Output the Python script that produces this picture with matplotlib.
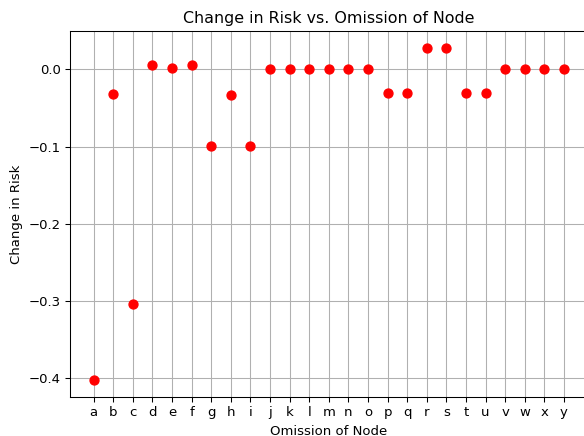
import numpy as np
import matplotlib
matplotlib.use('Agg')
import matplotlib.pyplot as plt

nodes = list('abcdefghijklmnopqrstuvwxy')
risk_change = [-0.4026, -0.0316, -0.3043, 0.0052, 0.0017, 0.0050, -0.0996, -0.0330,
               -0.0996, 0.0, 0.0, 0.0, 0.0, 0.0008, 0.0, -0.0312, -0.0312, 0.0280,
               0.0280, -0.0312, -0.0312, 0.0, 0.0, 0.0, 0.0]

dpi = 95
fig = plt.figure(figsize=(584/dpi, 436/dpi), dpi=dpi)
ax = fig.add_axes([70/584, 39/436, (587.5-70)/584, (397-31)/436])

x = np.arange(len(nodes))
ax.plot(x, risk_change, 'ro', markersize=6.8)
ax.set_xticks(x)
ax.set_xticklabels(nodes)
ax.grid(True)
ax.set_axisbelow(True)
ax.set_title('Change in Risk vs. Omission of Node')
ax.set_xlabel('Omission of Node')
ax.set_ylabel('Change in Risk')

fig.savefig('out.png', dpi=dpi)
